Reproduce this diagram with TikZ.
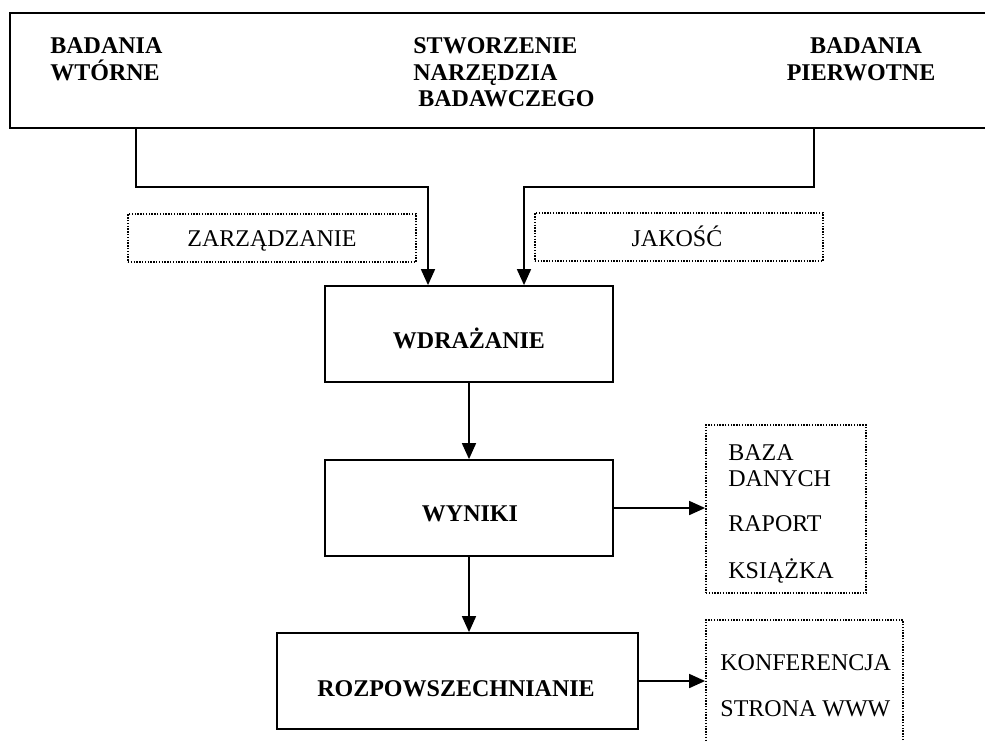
\documentclass[tikz,border=0pt]{standalone}
\usepackage{fontspec}
\setmainfont{Liberation Serif}
\usetikzlibrary{arrows.meta}
\begin{document}
\begin{tikzpicture}[x=0.5pt,y=-0.5pt,
  solidbox/.style={draw, line width=0.9pt, inner sep=0pt},
  dotbox/.style={draw, line width=0.9pt, dash pattern=on 0.7pt off 0.7pt, inner sep=0pt},
  bt/.style={font=\fontsize{12}{14}\selectfont\bfseries, inner sep=0pt},
  rt/.style={font=\fontsize{12}{14}\selectfont, inner sep=0pt},
  conn/.style={line width=0.85pt},
  arr/.style={conn, -{Triangle[length=8pt,width=7pt]}}]
\useasboundingbox (0,0) rectangle (985,741);
\clip (0,0) rectangle (985,741);
% top box
\node[solidbox, minimum width=495pt, minimum height=57.5pt] (top) at (505,70.5) {};
\node[bt, anchor=base west] (bw1) at (50,53) {BADANIA};
\node[bt, anchor=base west] (bw2) at (50,80) {WTÓRNE};
\node[bt, anchor=base west] (st1) at (413,53) {STWORZENIE};
\node[bt, anchor=base west] (st2) at (413,80) {NARZĘDZIA};
\node[bt, anchor=base west] (st3) at (418,106) {BADAWCZEGO};
\node[bt, anchor=base] (bp1) at (866,53) {BADANIA};
\node[bt, anchor=base] (bp2) at (861,80) {PIERWOTNE};
% dotted labels
\node[dotbox, minimum width=144pt, minimum height=24pt] (zarz) at (272,238) {};
\node[rt, anchor=base] (zarzt) at (272,246) {ZARZĄDZANIE};
\node[dotbox, minimum width=144pt, minimum height=24pt] (jak) at (679,237) {};
\node[rt, anchor=base] (jakt) at (677,246) {JAKOŚĆ};
% main boxes
\node[solidbox, minimum width=144pt, minimum height=48pt] (wdr) at (469,334) {};
\node[bt, anchor=base] (wdrt) at (469,348) {WDRAŻANIE};
\node[solidbox, minimum width=144pt, minimum height=48pt] (wyn) at (469,508) {};
\node[bt, anchor=base] (wynt) at (470,521) {WYNIKI};
\node[solidbox, minimum width=180.5pt, minimum height=48pt] (roz) at (457.5,681) {};
\node[bt, anchor=base] (rozt) at (456,696) {ROZPOWSZECHNIANIE};
% output boxes
\node[dotbox, minimum width=80pt, minimum height=84pt] (baza) at (786,509) {};
\node[rt, anchor=base west] (b1) at (728,460) {BAZA};
\node[rt, anchor=base west] (b2) at (728,486) {DANYCH};
\node[rt, anchor=base west] (b3) at (728,531) {RAPORT};
\node[rt, anchor=base west] (b4) at (728,578) {KSIĄŻKA};
\node[dotbox, minimum width=98.5pt, minimum height=75pt] (konf) at (804.5,695) {};
\node[rt, anchor=base west] (k1) at (720,670) {KONFERENCJA};
\node[rt, anchor=base west] (k2) at (720,716) {STRONA WWW};
% connectors
\coordinate (lbend) at (136,187);
\coordinate (lend) at (428,187);
\coordinate (rbend) at (814,187);
\coordinate (rend) at (524,187);
\draw[arr] (top.south -| lbend) |- (lend) -- (lend |- wdr.north);
\draw[arr] (top.south -| rbend) |- (rend) -- (rend |- wdr.north);
\draw[arr] (wdr.south) -- (wyn.north);
\draw[arr] (wyn.east) -- (wyn.east -| baza.west);
\draw[arr] (wyn.south) -- (wyn.south |- roz.north);
\draw[arr] (roz.east) -- (roz.east -| konf.west);
\end{tikzpicture}
\end{document}
